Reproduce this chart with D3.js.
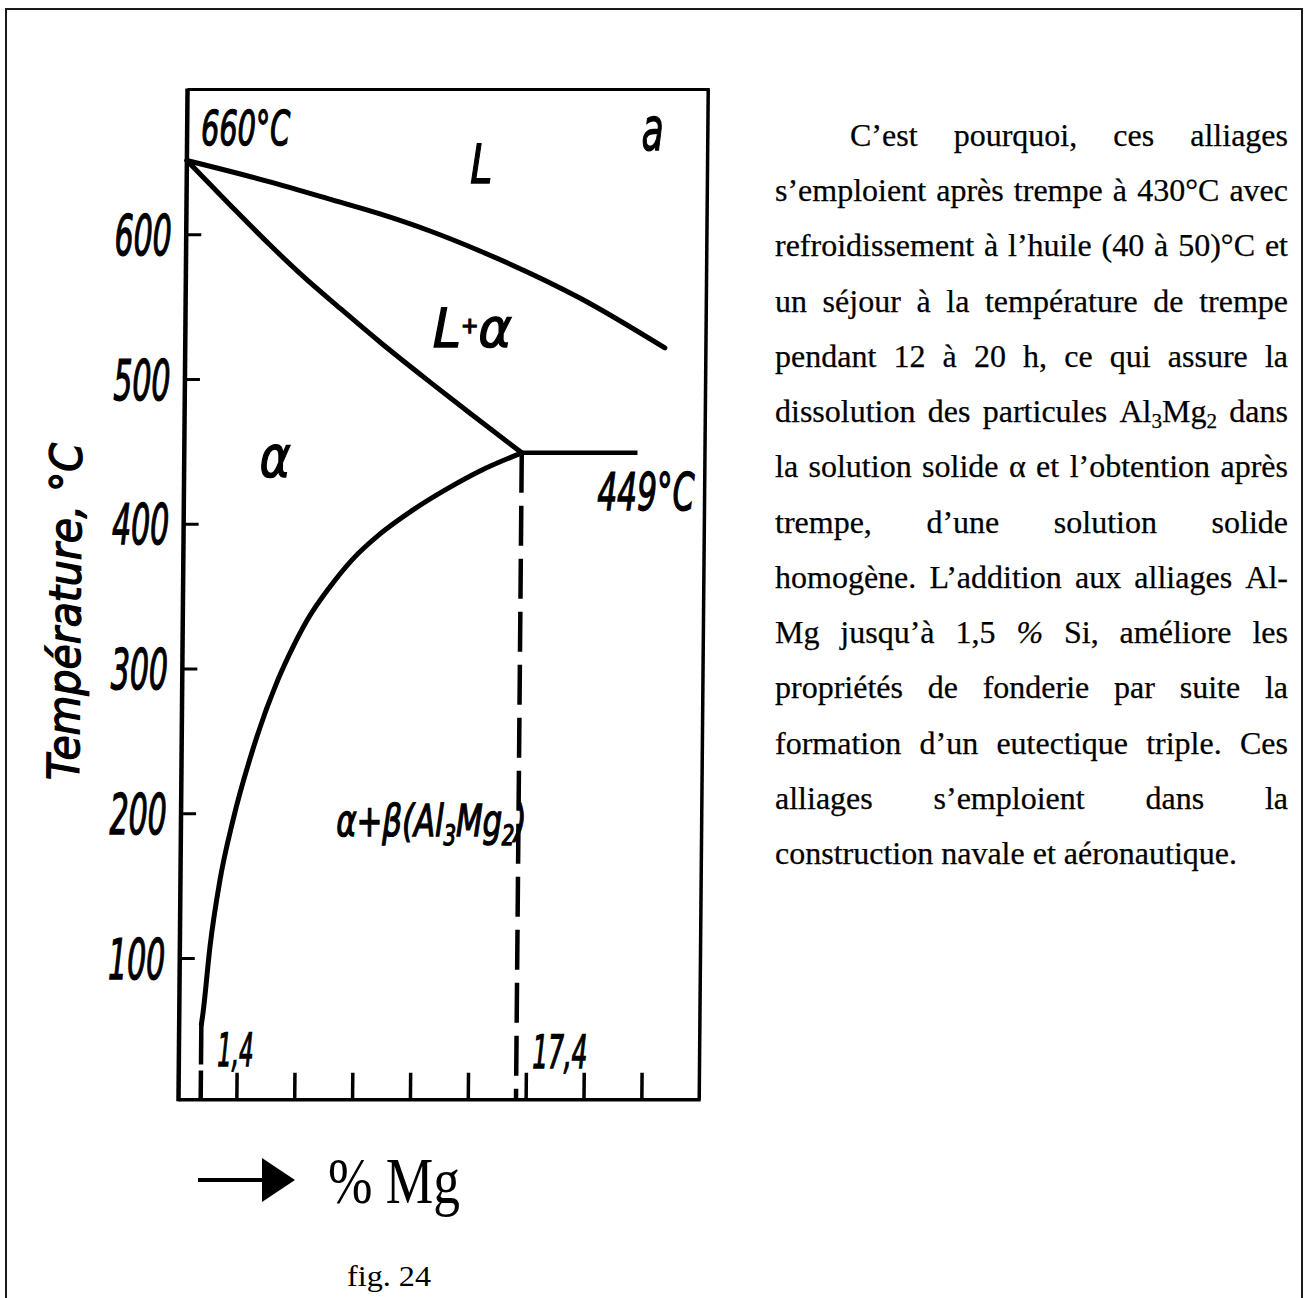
<!DOCTYPE html>
<html><head><meta charset="utf-8">
<script src="https://cdn.jsdelivr.net/npm/d3@7"></script>
<style>
html,body{margin:0;padding:0;background:#fff;}
svg{display:block;background:#fff;}
.hand{font-family:"Liberation Sans Narrow","DejaVu Sans Condensed","DejaVu Sans",sans-serif;font-style:italic;font-stretch:condensed;fill:#000;stroke:#000;stroke-width:1.3px;}
.serif{font-family:"Liberation Serif","Times New Roman",serif;fill:#000;}
</style></head><body>
<svg id="c" width="1307" height="1298"></svg>
<script>
// ---------- data ----------
const tempTicks = [100, 200, 300, 400, 500, 600];
const compTicks = [3, 6, 9, 12, 15, 18, 21, 24];
// [%Mg, °C]
const liquidus = [[0,651],[4.16,636.8],[7.59,623.7],[10.04,614.1],[12.64,602.3],[15.24,588.5],[20.44,556.0],[24.87,521.5]];
const solidus  = [[0,651],[2.26,620.3],[4.35,592.6],[6.07,571.1],[8.0,549.0],[10.09,525.6],[12.71,497.9],[14.8,476.4],[17.5,449]];
const solvus   = [[1.15,54],[1.23,62.0],[1.56,107.6],[2.05,153.9],[2.70,195.4],[3.75,246.6],[4.96,292.2],[5.78,316.4],[6.44,333.2],[7.62,356.5],[8.75,375.1],[10.19,393.0],[11.89,409.6],[13.64,424.1],[15.34,436.5],[17.5,449]];
const eutecticT = 449;
const eutecticC = 17.5;
const eutecticLineEndC = 23.5;
const solvusFootC = 1.15;
const solvusFootTopT = 54;
const compDomain = [0, 27];
const tempDomain = [0, 700];
const frameBottomT = 2;
const labelMelt = "660°C";
const labelEut = "449°C";
const labelL = "L";
const labelTopRight = "a";
const labelLA = ["L","+","α"];
const labelAlpha = "α";
const labelTwoPhase = [["α+β(Al",0],["3",1],["Mg",0],["2",1],[")",0]];
const labelC1 = "1,4";
const labelC2 = "17,4";
const yTitle = "Température, °C";
const xTitle = "% Mg";
const figCaption = "fig. 24";
const paragraphLines = [
"C’est pourquoi, ces alliages",
"s’emploient après trempe à 430°C avec",
"refroidissement à l’huile (40 à 50)°C et",
"un séjour à la température de trempe",
"pendant 12 à 20 h, ce qui assure la",
"dissolution des particules Al_3Mg_2 dans",
"la solution solide α et l’obtention après",
"trempe, d’une solution solide",
"homogène. L’addition aux alliages Al-",
"Mg jusqu’à 1,5 % Si, améliore les",
"propriétés de fonderie par suite la",
"formation d’un eutectique triple. Ces",
"alliages s’emploient dans la",
"construction navale et aéronautique."
];

// ---------- drawing ----------
const svg = d3.select("#c");
svg.append("rect").attr("x",6).attr("y",9).attr("width",1296).attr("height",1320)
  .attr("fill","none").attr("stroke","#1a1a1a").attr("stroke-width",2);

const x = d3.scaleLinear().domain(compDomain).range([178.5, 699.2]);
const y = d3.scaleLinear().domain(tempDomain).range([1102.7, 89.6]);
const yb = y(frameBottomT);

const g = svg.append("g")
  .attr("transform", `translate(0,${yb}) skewX(-0.512) translate(0,${-yb})`);

// frame
const fx0 = x(compDomain[0]), fx1 = x(compDomain[1]), fy0 = y(tempDomain[1]);
g.append("line").attr("x1",fx0).attr("x2",fx0).attr("y1",fy0-1).attr("y2",yb+1.5).attr("stroke","#000").attr("stroke-width",4.5);
g.append("line").attr("x1",fx0).attr("x2",fx1+1.5).attr("y1",fy0).attr("y2",fy0).attr("stroke","#000").attr("stroke-width",3);
g.append("line").attr("x1",fx1).attr("x2",fx1).attr("y1",fy0).attr("y2",yb).attr("stroke","#000").attr("stroke-width",3.5);
g.append("line").attr("x1",fx0).attr("x2",fx1+1.5).attr("y1",yb).attr("y2",yb).attr("stroke","#000").attr("stroke-width",3.5);

// y axis (ticks inside, labels outside)
const yAxis = g.append("g").attr("transform",`translate(${fx0},0)`)
  .call(d3.axisLeft(y).tickValues(tempTicks).tickSizeInner(-15).tickSizeOuter(0).tickPadding(14.5).tickFormat(d3.format("d")));
yAxis.select(".domain").remove();
yAxis.selectAll(".tick line").attr("stroke","#000").attr("stroke-width",3);
yAxis.selectAll(".tick text").attr("class","hand").attr("fill","#000")
  .style("font-size","56px").attr("dy","0.36em")
  .attr("textLength",57).attr("lengthAdjust","spacingAndGlyphs");

// x axis ticks
const xAxis = g.append("g").attr("transform",`translate(0,${yb})`)
  .call(d3.axisBottom(x).tickValues(compTicks).tickSizeInner(-27).tickSizeOuter(0).tickFormat(""));
xAxis.select(".domain").remove();
xAxis.selectAll(".tick line").attr("stroke","#000").attr("stroke-width",3.5);

// phase boundaries
const line = d3.line().x(d=>x(d[0])).y(d=>y(d[1])).curve(d3.curveMonotoneX);
[liquidus, solidus, solvus].forEach(p=>{
  g.append("path").attr("d",line(p)).attr("fill","none").attr("stroke","#000")
   .attr("stroke-width",5).attr("stroke-linecap","round").attr("stroke-linejoin","round");
});
g.append("line").attr("x1",x(eutecticC)).attr("x2",x(eutecticLineEndC))
  .attr("y1",y(eutecticT)).attr("y2",y(eutecticT)).attr("stroke","#000").attr("stroke-width",4.5);
g.append("line").attr("x1",x(eutecticC)).attr("x2",x(eutecticC))
  .attr("y1",y(eutecticT)).attr("y2",yb).attr("stroke","#000").attr("stroke-width",4.5)
  .attr("stroke-dasharray","40 13");
g.append("line").attr("x1",x(solvusFootC)).attr("x2",x(solvusFootC))
  .attr("y1",y(solvusFootTopT)).attr("y2",yb).attr("stroke","#000").attr("stroke-width",4.5)
  .attr("stroke-dasharray","40 6");

// labels (inside skewed group, coordinates unskewed)
function hand(txt, xx, yy, size, len){
  const t = g.append("text").attr("class","hand").attr("x",xx).attr("y",yy).style("font-size",size+"px").text(txt);
  if(len) t.attr("textLength",len).attr("lengthAdjust","spacingAndGlyphs");
  return t;
}
function fitTo(t, xx, yy, w){
  const nat = t.node().getComputedTextLength();
  t.attr("transform",`translate(${xx},${yy}) scale(${w/nat},1)`);
}
hand(labelMelt, 192.5, 145, 48, 89);
hand(labelL, 462, 183, 54, 22);
hand(labelTopRight, 633, 150, 60, 22);
{
  const t = g.append("text").attr("class","hand").style("font-size","54px");
  t.append("tspan").text(labelLA[0]);
  t.append("tspan").attr("dy",-14).style("font-size","22px").text(labelLA[1]);
  t.append("tspan").attr("dy",14).text(labelLA[2]);
  fitTo(t, 426, 347, 79);
}
hand(labelAlpha, 254, 477, 58, 31);
hand(labelEut, 592, 510, 52, 97);
{
  const t = g.append("text").attr("class","hand").style("font-size","44px");
  let sub = 0;
  labelTwoPhase.forEach(([s,isSub])=>{
    const ts = t.append("tspan").text(s);
    if(isSub){ ts.style("font-size","28px").attr("dy", 9 - sub); sub = 9; }
    else { ts.attr("dy", -sub); sub = 0; }
  });
  fitTo(t, 334, 836, 190);
}
hand(labelC1, 217, 1066, 46, 36);
hand(labelC2, 532, 1068, 46, 55);
g.append("text").attr("class","hand").attr("transform","translate(76,611.5) rotate(-90)")
  .attr("text-anchor","middle").style("font-size","44px")
  .attr("textLength",337).attr("lengthAdjust","spacingAndGlyphs").text(yTitle);

// x title with arrow
svg.append("line").attr("x1",198).attr("x2",265).attr("y1",1180).attr("y2",1180).attr("stroke","#000").attr("stroke-width",4);
svg.append("path").attr("d","M262,1158 L295,1180 L262,1202 Z").attr("fill","#000");
svg.append("text").attr("class","serif").attr("x",328).attr("y",1203).style("font-size","65px")
  .attr("textLength",132).attr("lengthAdjust","spacingAndGlyphs").text(xTitle);
svg.append("text").attr("class","serif").attr("x",347).attr("y",1286).style("font-size","30px")
  .attr("textLength",84).attr("lengthAdjust","spacingAndGlyphs").text(figCaption);

// paragraph, justified
const fs = 32;
const pg = svg.append("g").attr("class","serif").style("font-size",fs+"px")
  .style("stroke","#000").style("stroke-width","0.25px");
function addWord(t, w){
  if(w === "%"){ t.append("tspan").style("font-style","italic").text(w); return; }
  const parts = w.split(/(_\d)/).filter(s=>s.length);
  let sub = false;
  parts.forEach(p=>{
    if(p[0]==="_"){ t.append("tspan").attr("dy", sub?0:6).style("font-size",(fs*0.66)+"px").text(p.slice(1)); sub = true; }
    else { t.append("tspan").attr("dy", sub?-6:0).text(p); sub = false; }
  });
}
paragraphLines.forEach((ln,i)=>{
  const left = i===0 ? 850 : 775, right = 1288, base = 146 + i*55.23;
  const words = ln.split(" ");
  const els = words.map(w=>{ const t = pg.append("text").attr("y",base); addWord(t,w); return t; });
  const widths = els.map(t=>t.node().getComputedTextLength());
  const total = d3.sum(widths);
  const last = i === paragraphLines.length-1;
  const gap = last ? fs*0.25 : (right-left-total)/(words.length-1);
  let cx = left;
  els.forEach((t,j)=>{ t.attr("x",cx); cx += widths[j] + gap; });
});
</script>
</body></html>
